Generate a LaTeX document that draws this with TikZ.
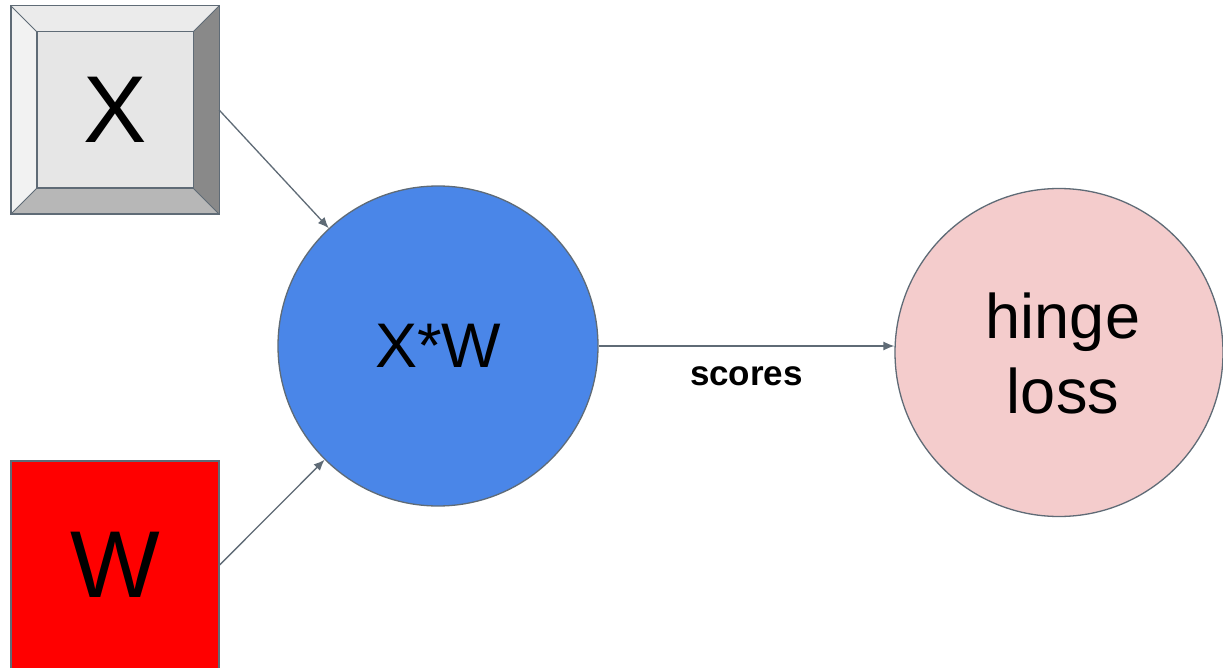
\documentclass[tikz,border=0pt]{standalone}
\usepackage{fontspec}
\setmainfont{Liberation Sans}
\usetikzlibrary{arrows.meta,calc}

\definecolor{edge}{RGB}{95,107,118}
\definecolor{keyface}{RGB}{230,230,230}
\definecolor{keytop}{RGB}{235,235,235}
\definecolor{keyleft}{RGB}{242,242,242}
\definecolor{keyright}{RGB}{137,137,137}
\definecolor{keybottom}{RGB}{183,183,183}
\definecolor{opblue}{RGB}{74,134,232}
\definecolor{losspink}{RGB}{244,204,204}
\definecolor{wred}{RGB}{255,0,0}

\tikzset{
  outline/.style={draw=edge, line width=1.3pt},
  keybox/.style={outline, fill=keyface, minimum size=207pt, inner sep=0pt,
                 font=\fontsize{95}{95}\selectfont},
  redbox/.style={outline, fill=wred, minimum size=208pt, inner sep=0pt,
                 font=\fontsize{95}{95}\selectfont},
  opnode/.style={outline, circle, fill=opblue, minimum size=320pt, inner sep=0pt,
                 font=\fontsize{63}{63}\selectfont},
  lossnode/.style={outline, circle, fill=losspink, minimum size=328pt, inner sep=0pt,
                   align=center, font=\fontsize{63}{75}\selectfont},
  flow/.style={draw=edge, line width=1.3pt, -{Latex[length=11pt,width=9pt]}},
  edgelabel/.style={font=\fontsize{35}{35}\selectfont\bfseries}
}

\begin{document}
\begin{tikzpicture}[x=1pt,y=-1pt]
\useasboundingbox[fill=white] (0,0) rectangle (1223,668);

% bevelled input key X
\node[keybox] (xbox) at (115,110) {};
\coordinate (ia) at ($(xbox.north west)+(26,26)$);
\coordinate (ib) at ($(xbox.north east)+(-26,26)$);
\coordinate (ic) at ($(xbox.south east)+(-26,-26)$);
\coordinate (id) at ($(xbox.south west)+(26,-26)$);
\fill[keytop] (xbox.north west) -- (xbox.north east) -- (ib) -- (ia) -- cycle;
\fill[keyright] (xbox.north east) -- (xbox.south east) -- (ic) -- (ib) -- cycle;
\fill[keybottom] (xbox.south east) -- (xbox.south west) -- (id) -- (ic) -- cycle;
\fill[keyleft] (xbox.south west) -- (xbox.north west) -- (ia) -- (id) -- cycle;
\draw[edge, line width=1.3pt] (xbox.north west) rectangle (xbox.south east);
\draw[edge, line width=1.3pt] (ia) rectangle (ic);
\draw[edge, line width=1pt] (xbox.north west) -- (ia) (xbox.north east) -- (ib)
  (xbox.south east) -- (ic) (xbox.south west) -- (id);
\node[font=\fontsize{95}{95}\selectfont] (xlabel) at (xbox.center) {X};

% weight matrix W
\node[redbox] (wbox) at (115,565) {W};

% product and loss
\node[opnode] (xw) at (438,346) {X*W};
\node[lossnode] (hinge) at (1059,352.5) {};
\node[align=center, font=\fontsize{63}{75}\selectfont] (hingelabel)
  at ($(hinge.center)+(4,1)$) {hinge\\loss};

% connectors
\draw[flow] (xbox.east) -- (xw);
\draw[flow] (wbox.east) -- (xw);
\draw[flow] (xw.east) -- (xw.east -| hinge.west)
  node[edgelabel, midway, yshift=-30pt] (scores) {scores};
\end{tikzpicture}
\end{document}
